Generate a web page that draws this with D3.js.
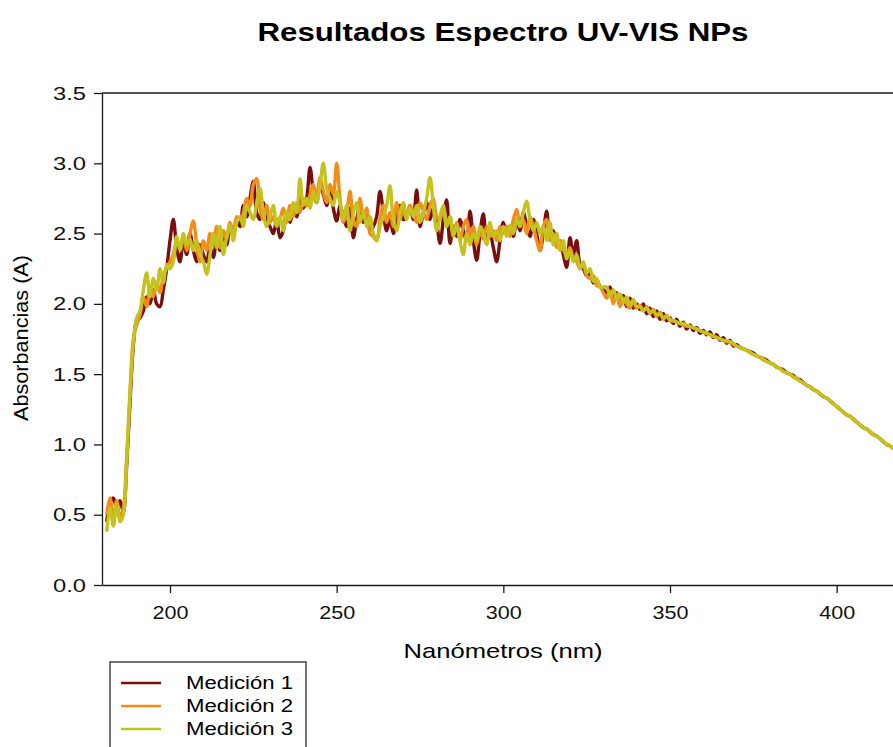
<!DOCTYPE html>
<html lang="es">
<head>
    <meta charset="UTF-8">
    <title>Resultados Espectro UV-VIS NPs</title>
    <script src="https://d3js.org/d3.v7.min.js"></script>
    <style>
        body { margin: 0; background: #fff; }
        svg { display: block; font-family: "Liberation Sans", Arial, sans-serif; }
    </style>
</head>
<body>
    <svg></svg>
    <script>
        // Wavelengths (nm), one reading per nm
        const wavelengths = d3.range(181, 418);

        const medicion1 = [
            0.45, 0.58, 0.62, 0.55, 0.60, 0.52, 0.85, 1.30, 1.70, 1.88,
            1.90, 1.95, 2.05, 2.00, 2.10, 2.00, 1.98, 2.10, 2.25, 2.45,
            2.60, 2.40, 2.30, 2.45, 2.35, 2.50, 2.38, 2.30, 2.42, 2.35,
            2.30, 2.40, 2.33, 2.45, 2.38, 2.50, 2.42, 2.55, 2.48, 2.60,
            2.55, 2.70, 2.62, 2.75, 2.87, 2.65, 2.60, 2.72, 2.58, 2.55,
            2.50, 2.60, 2.47, 2.52, 2.65, 2.58, 2.70, 2.62, 2.75, 2.68,
            2.75, 2.97, 2.80, 2.72, 2.85, 2.78, 2.70, 2.82, 2.68, 2.59,
            2.70, 2.62, 2.55, 2.68, 2.47, 2.60, 2.70, 2.58, 2.65, 2.52,
            2.55, 2.62, 2.80, 2.65, 2.52, 2.60, 2.50, 2.62, 2.70, 2.60,
            2.62, 2.70, 2.60, 2.81, 2.55, 2.65, 2.72, 2.60, 2.68, 2.58,
            2.43, 2.60, 2.74, 2.43, 2.55, 2.48, 2.60, 2.52, 2.45, 2.66,
            2.45, 2.31, 2.50, 2.64, 2.45, 2.50, 2.40, 2.30, 2.45, 2.58,
            2.50, 2.55, 2.48, 2.60, 2.52, 2.65, 2.55, 2.48, 2.60, 2.50,
            2.38, 2.50, 2.66, 2.48, 2.52, 2.42, 2.45, 2.35, 2.26, 2.47,
            2.35, 2.45, 2.28, 2.25, 2.20, 2.22, 2.15, 2.17, 2.12, 2.10,
            2.08, 2.12, 2.02, 2.08, 1.99, 2.06, 1.98, 2.04, 1.97, 2.00,
            1.96, 2.00, 1.93, 1.97, 1.91, 1.95, 1.89, 1.93, 1.88, 1.90,
            1.86, 1.89, 1.84, 1.87, 1.82, 1.85, 1.81, 1.83, 1.79, 1.81,
            1.78, 1.80, 1.76, 1.78, 1.74, 1.76, 1.72, 1.74, 1.70, 1.71,
            1.69, 1.68, 1.67, 1.66, 1.65, 1.63, 1.62, 1.61, 1.60, 1.58,
            1.57, 1.55, 1.54, 1.53, 1.51, 1.50, 1.49, 1.47, 1.46, 1.44,
            1.42, 1.41, 1.39, 1.38, 1.36, 1.34, 1.33, 1.31, 1.29, 1.27,
            1.25, 1.23, 1.21, 1.20, 1.18, 1.16, 1.14, 1.12, 1.11, 1.09,
            1.07, 1.06, 1.04, 1.02, 1.00, 0.99, 0.97
        ];

        const medicion2 = [
            0.50, 0.62, 0.45, 0.60, 0.48, 0.55, 0.90, 1.35, 1.75, 1.85,
            1.92, 2.05, 1.98, 2.10, 2.05, 2.15, 2.08, 2.20, 2.25, 2.30,
            2.35, 2.45, 2.40, 2.48, 2.38, 2.50, 2.59, 2.42, 2.30, 2.45,
            2.38, 2.50, 2.42, 2.55, 2.40, 2.52, 2.46, 2.58, 2.50, 2.62,
            2.60, 2.65, 2.75, 2.70, 2.85, 2.89, 2.68, 2.60, 2.70, 2.58,
            2.62, 2.55, 2.60, 2.68, 2.58, 2.70, 2.62, 2.72, 2.65, 2.75,
            2.70, 2.78, 2.85, 2.75, 2.90, 2.80, 2.72, 2.85, 2.78, 3.00,
            2.75, 2.58, 2.65, 2.80, 2.60, 2.55, 2.75, 2.62, 2.68, 2.50,
            2.48, 2.45, 2.60, 2.70, 2.58, 2.65, 2.55, 2.72, 2.60, 2.68,
            2.62, 2.70, 2.65, 2.58, 2.72, 2.66, 2.60, 2.70, 2.75, 2.62,
            2.60, 2.68, 2.55, 2.62, 2.50, 2.58, 2.45, 2.55, 2.60, 2.48,
            2.55, 2.42, 2.52, 2.46, 2.55, 2.48, 2.52, 2.45, 2.55, 2.50,
            2.55, 2.48, 2.60, 2.67, 2.55, 2.60, 2.50, 2.62, 2.55, 2.45,
            2.38, 2.55, 2.60, 2.45, 2.50, 2.40, 2.45, 2.38, 2.35, 2.40,
            2.32, 2.30, 2.25, 2.28, 2.20, 2.18, 2.20, 2.13, 2.12, 2.08,
            2.04, 2.09, 2.00, 2.07, 1.98, 2.04, 2.00, 1.97, 2.03, 1.97,
            1.99, 1.95, 1.98, 1.93, 1.96, 1.91, 1.94, 1.89, 1.92, 1.88,
            1.88, 1.87, 1.86, 1.85, 1.84, 1.84, 1.83, 1.82, 1.81, 1.80,
            1.79, 1.78, 1.77, 1.76, 1.75, 1.74, 1.73, 1.73, 1.71, 1.70,
            1.69, 1.68, 1.67, 1.66, 1.64, 1.63, 1.62, 1.61, 1.59, 1.58,
            1.57, 1.55, 1.54, 1.52, 1.51, 1.50, 1.48, 1.47, 1.45, 1.44,
            1.42, 1.41, 1.39, 1.38, 1.36, 1.34, 1.33, 1.31, 1.29, 1.27,
            1.25, 1.23, 1.21, 1.20, 1.18, 1.16, 1.14, 1.12, 1.11, 1.09,
            1.07, 1.06, 1.04, 1.02, 1.00, 0.99, 0.97
        ];

        const medicion3 = [
            0.38, 0.55, 0.42, 0.58, 0.45, 0.50, 0.88, 1.38, 1.72, 1.90,
            1.95, 2.10, 2.22, 2.05, 2.18, 2.10, 2.25, 2.15, 2.28, 2.25,
            2.30, 2.48, 2.38, 2.50, 2.42, 2.46, 2.38, 2.45, 2.35, 2.30,
            2.21, 2.35, 2.50, 2.40, 2.55, 2.35, 2.48, 2.56, 2.45, 2.58,
            2.62, 2.55, 2.70, 2.65, 2.60, 2.72, 2.82, 2.65, 2.55, 2.62,
            2.70, 2.56, 2.62, 2.52, 2.66, 2.60, 2.72, 2.65, 2.89, 2.70,
            2.75, 2.68, 2.80, 2.72, 2.85, 3.00, 2.82, 2.75, 2.70, 2.80,
            2.72, 2.60, 2.70, 2.52, 2.65, 2.72, 2.58, 2.66, 2.55, 2.62,
            2.50, 2.45, 2.55, 2.62, 2.70, 2.84, 2.60, 2.52, 2.65, 2.72,
            2.60, 2.68, 2.62, 2.70, 2.58, 2.65, 2.75, 2.90, 2.70, 2.52,
            2.62, 2.70, 2.55, 2.62, 2.48, 2.56, 2.45, 2.35, 2.50, 2.42,
            2.50, 2.45, 2.55, 2.50, 2.42, 2.58, 2.48, 2.52, 2.45, 2.55,
            2.48, 2.56, 2.50, 2.60, 2.55, 2.65, 2.73, 2.60, 2.52, 2.58,
            2.50, 2.55, 2.45, 2.58, 2.42, 2.50, 2.38, 2.45, 2.32, 2.38,
            2.30, 2.35, 2.25, 2.30, 2.22, 2.25, 2.16, 2.18, 2.12, 2.12,
            2.12, 2.05, 2.10, 2.03, 2.07, 2.01, 2.05, 1.99, 2.03, 1.98,
            1.98, 1.95, 1.97, 1.94, 1.95, 1.92, 1.93, 1.90, 1.91, 1.89,
            1.88, 1.87, 1.86, 1.86, 1.85, 1.84, 1.83, 1.82, 1.81, 1.80,
            1.79, 1.78, 1.77, 1.76, 1.75, 1.74, 1.74, 1.73, 1.72, 1.70,
            1.69, 1.68, 1.67, 1.65, 1.64, 1.63, 1.62, 1.60, 1.59, 1.58,
            1.57, 1.55, 1.54, 1.52, 1.51, 1.50, 1.48, 1.47, 1.45, 1.44,
            1.42, 1.41, 1.39, 1.38, 1.36, 1.34, 1.33, 1.31, 1.29, 1.27,
            1.25, 1.23, 1.21, 1.20, 1.18, 1.16, 1.14, 1.12, 1.11, 1.09,
            1.07, 1.06, 1.04, 1.02, 1.00, 0.99, 0.97
        ];

        const seriesNames = ["Medición 1", "Medición 2", "Medición 3"];
        const seriesColors = ["#7a0d0d", "#f48c1c", "#c4c21c"];
        const xTicks = [200, 250, 300, 350, 400];
        const yTicks = [0, 0.5, 1.0, 1.5, 2.0, 2.5, 3.0, 3.5];

        const width = 893, height = 747;
        const plot = {left: 102, right: 893, top: 93, bottom: 585};

        const svg = d3.select("svg")
            .attr("width", width)
            .attr("height", height);

        // Scales
        const x = d3.scaleLinear()
            .domain([179.6, 416.9])
            .range([plot.left, plot.right]);
        const y = d3.scaleLinear()
            .domain([0, 3.5])
            .range([plot.bottom, plot.top]);

        svg.append("defs").append("clipPath")
            .attr("id", "clip")
            .append("rect")
            .attr("x", plot.left).attr("y", plot.top)
            .attr("width", plot.right - plot.left)
            .attr("height", plot.bottom - plot.top);

        // Title
        svg.append("text")
            .attr("x", 503).attr("y", 41)
            .attr("text-anchor", "middle")
            .attr("font-size", 25)
            .attr("font-weight", "bold")
            .attr("textLength", 491)
            .attr("lengthAdjust", "spacingAndGlyphs")
            .text("Resultados Espectro UV-VIS NPs");

        // Lines
        const line = d3.line()
            .x((d, i) => x(wavelengths[i]))
            .y(d => y(d))
            .curve(d3.curveCatmullRom.alpha(0.5));

        svg.append("g")
            .attr("clip-path", "url(#clip)")
            .selectAll("path")
            .data([medicion1, medicion2, medicion3])
            .enter()
            .append("path")
            .attr("fill", "none")
            .attr("stroke", (d, i) => seriesColors[i])
            .attr("stroke-width", 3.4)
            .attr("stroke-linejoin", "round")
            .attr("d", d => line(d));

        // X axis
        const xAxis = svg.append("g")
            .attr("transform", `translate(0, ${plot.bottom})`)
            .call(d3.axisBottom(x).tickValues(xTicks).tickSize(8).tickSizeOuter(0).tickPadding(13));
        // Y axis
        const yAxis = svg.append("g")
            .attr("transform", `translate(${plot.left}, 0)`)
            .call(d3.axisLeft(y).tickValues(yTicks).tickFormat(d3.format(".1f")).tickSize(8).tickSizeOuter(0).tickPadding(8));

        [xAxis, yAxis].forEach(g => {
            g.selectAll("path, line").attr("stroke", "#1a1a1a").attr("stroke-width", 1.3);
            g.selectAll("text")
                .attr("font-size", 19)
                .attr("font-family", "Liberation Sans, Arial, sans-serif")
                .attr("fill", "#111")
                .attr("lengthAdjust", "spacingAndGlyphs");
        });
        xAxis.selectAll("text").attr("textLength", 36);
        yAxis.selectAll("text").attr("textLength", 33);

        // Top frame line
        svg.append("line")
            .attr("x1", plot.left).attr("x2", plot.right)
            .attr("y1", plot.top).attr("y2", plot.top)
            .attr("stroke", "#1a1a1a").attr("stroke-width", 1.3);

        // Axis titles
        svg.append("text")
            .attr("x", 503).attr("y", 658)
            .attr("text-anchor", "middle")
            .attr("font-size", 21)
            .attr("textLength", 199)
            .attr("lengthAdjust", "spacingAndGlyphs")
            .text("Nanómetros (nm)");

        svg.append("text")
            .attr("transform", "translate(28, 338) rotate(-90)")
            .attr("text-anchor", "middle")
            .attr("font-size", 20)
            .attr("textLength", 166)
            .attr("lengthAdjust", "spacingAndGlyphs")
            .text("Absorbancias (A)");

        // Legend
        const legend = svg.append("g");
        legend.append("rect")
            .attr("x", 110).attr("y", 662)
            .attr("width", 196).attr("height", 100)
            .attr("fill", "none")
            .attr("stroke", "#1a1a1a").attr("stroke-width", 1.2);

        seriesNames.forEach((name, i) => {
            const ly = 683 + i * 23;
            legend.append("line")
                .attr("x1", 121).attr("x2", 161)
                .attr("y1", ly).attr("y2", ly)
                .attr("stroke", seriesColors[i]).attr("stroke-width", 2.6);
            legend.append("text")
                .attr("x", 186).attr("y", ly + 6)
                .attr("font-size", 18)
                .attr("textLength", 107)
                .attr("lengthAdjust", "spacingAndGlyphs")
                .text(name);
        });
    </script>
</body>
</html>
